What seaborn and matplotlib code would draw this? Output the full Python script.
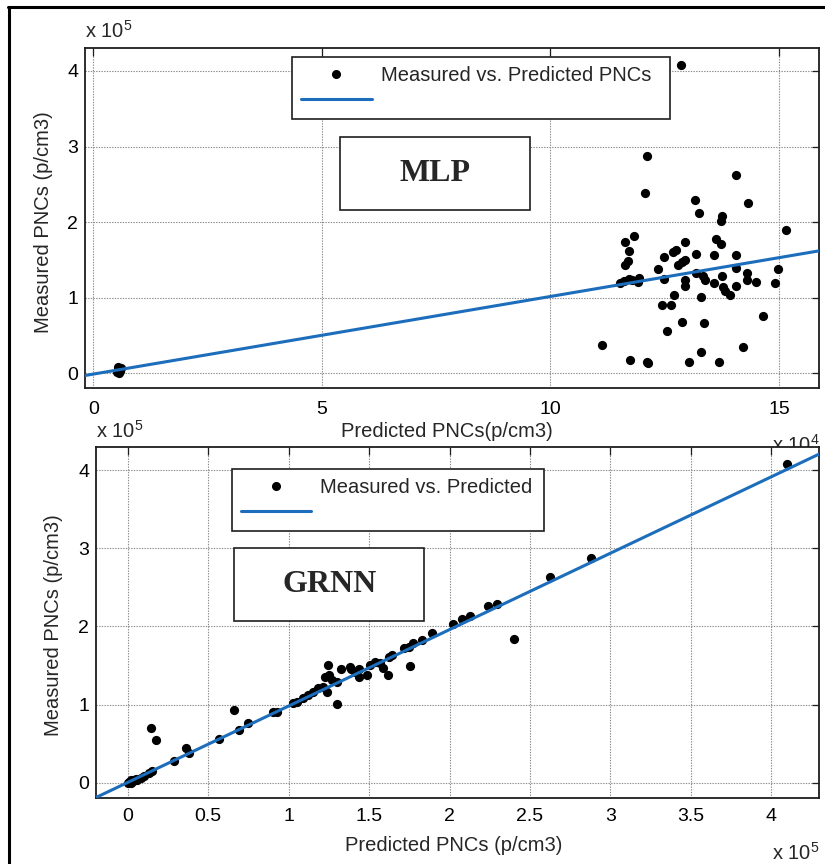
import matplotlib
matplotlib.use("Agg")
import matplotlib.pyplot as plt
from matplotlib.patches import Rectangle
from matplotlib.lines import Line2D
import seaborn as sns

# ---------------- data ----------------
# MLP: predicted PNCs in units of 1e4 p/cm3, measured PNCs in units of 1e5 p/cm3
mlp_pred = [0.52, 0.55, 0.58, 0.60, 0.56, 0.54,
            12.85, 12.11, 12.07, 14.06, 14.32, 13.17, 13.25, 13.75, 13.73, 15.16,
            11.82, 11.63, 12.95, 13.61, 13.73, 11.71, 12.75, 12.69, 13.18, 13.58,
            14.06, 12.48, 11.69, 11.63, 12.95, 12.87, 12.80, 12.36, 14.06, 14.97,
            14.29, 13.18, 13.33, 13.76, 11.71, 11.93, 12.48, 12.95, 13.39, 14.29,
            14.50, 11.53, 11.91, 13.58, 14.91, 12.95, 14.06, 13.78, 13.81, 12.70,
            13.29, 13.92, 12.44, 12.63, 14.65, 12.88, 13.36, 12.55, 11.12, 14.21,
            13.29, 11.74, 12.11, 12.13, 13.03, 13.69, 11.78, 11.60]
mlp_meas = [0.02, 0.05, 0.03, 0.07, 0.00, 0.08,
            4.08, 2.88, 2.39, 2.63, 2.25, 2.29, 2.12, 2.08, 2.02, 1.90,
            1.82, 1.74, 1.74, 1.78, 1.71, 1.62, 1.63, 1.61, 1.58, 1.56,
            1.57, 1.54, 1.48, 1.43, 1.50, 1.47, 1.43, 1.38, 1.40, 1.38,
            1.33, 1.33, 1.29, 1.29, 1.25, 1.26, 1.25, 1.23, 1.23, 1.23,
            1.21, 1.19, 1.21, 1.19, 1.19, 1.15, 1.15, 1.14, 1.09, 1.03,
            1.01, 1.03, 0.91, 0.91, 0.76, 0.68, 0.66, 0.56, 0.38, 0.35,
            0.28, 0.17, 0.15, 0.14, 0.15, 0.15, 1.24, 1.22]

# GRNN: predicted and measured PNCs, both in units of 1e5 p/cm3
grnn_pred = [0.00, 0.01, 0.02, 0.03, 0.04, 0.05, 0.06, 0.08, 0.10, 0.02,
             0.135, 0.153, 0.145, 0.176, 0.29, 0.36, 0.38, 0.567, 0.66, 0.69,
             0.75, 0.905, 0.925, 1.03, 1.05, 1.09, 1.12, 1.153, 1.185, 1.216,
             1.237, 1.247, 1.226, 1.253, 1.268, 1.30, 1.30, 1.326, 1.38, 1.39,
             1.41, 1.44, 1.44, 1.485, 1.506, 1.537, 1.57, 1.589, 1.62, 1.626,
             1.64, 1.72, 1.75, 1.753, 1.775, 1.83, 1.893, 2.024, 2.08, 2.127,
             2.24, 2.293, 2.40, 2.625, 2.88, 4.096]
grnn_meas = [0.00, 0.01, 0.00, 0.02, 0.03, 0.05, 0.04, 0.06, 0.08, 0.03,
             0.13, 0.15, 0.70, 0.546, 0.277, 0.44, 0.375, 0.563, 0.93, 0.68,
             0.77, 0.91, 0.91, 1.015, 1.03, 1.09, 1.12, 1.164, 1.207, 1.22,
             1.164, 1.505, 1.356, 1.377, 1.313, 1.006, 1.29, 1.454, 1.48, 1.45,
             1.42, 1.355, 1.46, 1.377, 1.505, 1.547, 1.53, 1.463, 1.377, 1.61,
             1.63, 1.72, 1.74, 1.49, 1.79, 1.825, 1.91, 2.03, 2.09, 2.13,
             2.26, 2.29, 1.84, 2.63, 2.88, 4.075]

# Least-squares fit lines (measured = slope * predicted + intercept, p/cm3)
mlp_fit = (1.027, -1000.0)
grnn_fit = (0.978, 300.0)

mlp_xticks = [0, 5, 10, 15]
mlp_yticks = [0, 1, 2, 3, 4]
grnn_xticks = [0, 0.5, 1, 1.5, 2, 2.5, 3, 3.5, 4]
grnn_xticklabels = ["0", "0.5", "1", "1.5", "2", "2.5", "3", "3.5", "4"]
grnn_yticks = [0, 1, 2, 3, 4]

# ---------------- style ----------------
sns.set_theme(style="white")
plt.rcParams["font.family"] = ["Liberation Sans", "DejaVu Sans"]
plt.rcParams["mathtext.default"] = "regular"

BLUE = "#1c6dbb"
DARK = "#1e1e1e"
TICK_FS = 14
LEG_FS = 14.5
LABEL_FS = 14.5

W, H = 825, 864
fig = plt.figure(figsize=(W / 100, H / 100), dpi=100, facecolor="white")


def frac_axes(left, top, right, bottom):
    return fig.add_axes([left / W, 1 - bottom / H, (right - left) / W, (bottom - top) / H])


def style_axes(ax):
    ax.set_facecolor("white")
    for sp in ax.spines.values():
        sp.set_visible(True)
        sp.set_color(DARK)
        sp.set_linewidth(1.3)
    ax.grid(True, color="#8a8a8a", linestyle=(0, (1.2, 1.2)), linewidth=0.8)
    ax.set_axisbelow(True)
    ax.tick_params(direction="in", top=True, right=True, length=5.4, width=0.9,
                   color=DARK, labelcolor="black", labelsize=TICK_FS)


def add_legend(ax, label, x0, y_top, width, handlelength):
    h_pts = Line2D([], [], marker="o", linestyle="", color="black", markersize=5.5)
    h_line = Line2D([], [], color=BLUE, linewidth=2.2)
    leg = ax.legend([h_pts, h_line], [label, ""], loc="upper left",
                    bbox_to_anchor=(x0, y_top - 0.2, width, 0.2), mode="expand",
                    borderaxespad=0, frameon=True, fancybox=False, framealpha=1,
                    edgecolor=DARK, facecolor="white", fontsize=LEG_FS,
                    handlelength=handlelength, handletextpad=0.45,
                    labelspacing=0.3, borderpad=0.45)
    leg.get_frame().set_linewidth(1.2)
    leg.set_zorder(5)


def add_name_box(ax, name, x0, y0, x1, y1):
    ax.add_patch(Rectangle((x0, y0), x1 - x0, y1 - y0, transform=ax.transAxes,
                           facecolor="white", edgecolor=DARK, linewidth=1.2, zorder=5))
    ax.text((x0 + x1) / 2, (y0 + y1) / 2, name, transform=ax.transAxes,
            ha="center", va="center", fontsize=23, fontweight="bold",
            family=["Liberation Serif", "DejaVu Serif"], zorder=6)


# ---------------- MLP panel ----------------
ax1 = frac_axes(85.3, 48.3, 819.3, 388.3)
style_axes(ax1)
x_lo, x_hi = -0.175, 15.88
ax1.set_xlim(x_lo, x_hi)
ax1.set_ylim(-0.198, 4.30)
sns.scatterplot(x=mlp_pred, y=mlp_meas, ax=ax1, color="black", s=44,
                linewidth=0, zorder=3, legend=False)
fx = [x_lo, x_hi]
fy = [(mlp_fit[0] * v * 1e4 + mlp_fit[1]) / 1e5 for v in fx]
sns.lineplot(x=fx, y=fy, ax=ax1, color=BLUE, linewidth=2.2, zorder=4, legend=False)
ax1.set_xticks(mlp_xticks)
ax1.set_xticklabels([str(t) for t in mlp_xticks])
ax1.set_yticks(mlp_yticks)
ax1.set_yticklabels([str(t) for t in mlp_yticks])
ax1.tick_params(axis="x", pad=9)
ax1.tick_params(axis="y", pad=5)
ax1.set_xlabel("Predicted PNCs(p/cm3)", fontsize=LABEL_FS)
ax1.xaxis.label.set_va("center")
ax1.xaxis.set_label_coords(0.493, -0.128)
ax1.set_ylabel("Measured PNCs (p/cm3)", fontsize=LABEL_FS)
ax1.yaxis.label.set_va("center")
ax1.yaxis.set_label_coords(-0.0576, 0.49)
ax1.text(0.0, 1.03, r"x 10$^{5}$", transform=ax1.transAxes, ha="left", va="baseline",
         fontsize=LEG_FS, clip_on=False)
ax1.text(1.0, -0.188, r"x 10$^{4}$", transform=ax1.transAxes, ha="right", va="baseline",
         fontsize=LEG_FS, clip_on=False)
add_legend(ax1, "Measured vs. Predicted PNCs", 0.2816, 0.9744, 0.515, 3.5)
add_name_box(ax1, "MLP", 0.347, 0.524, 0.606, 0.739)

# ---------------- GRNN panel ----------------
ax2 = frac_axes(96.0, 446.7, 819.3, 798.3)
style_axes(ax2)
g_lo, g_hi = -0.197, 4.298
ax2.set_xlim(g_lo, g_hi)
ax2.set_ylim(-0.2, 4.30)
sns.scatterplot(x=grnn_pred, y=grnn_meas, ax=ax2, color="black", s=44,
                linewidth=0, zorder=3, legend=False)
gx = [g_lo, g_hi]
gy = [(grnn_fit[0] * v * 1e5 + grnn_fit[1]) / 1e5 for v in gx]
sns.lineplot(x=gx, y=gy, ax=ax2, color=BLUE, linewidth=2.2, zorder=4, legend=False)
ax2.set_xticks(grnn_xticks)
ax2.set_xticklabels(grnn_xticklabels)
ax2.set_yticks(grnn_yticks)
ax2.set_yticklabels([str(t) for t in grnn_yticks])
ax2.tick_params(axis="x", pad=7)
ax2.tick_params(axis="y", pad=5)
ax2.set_xlabel("Predicted PNCs (p/cm3)", fontsize=LABEL_FS)
ax2.xaxis.label.set_va("center")
ax2.xaxis.set_label_coords(0.495, -0.133)
ax2.set_ylabel("Measured PNCs (p/cm3)", fontsize=LABEL_FS)
ax2.yaxis.label.set_va("center")
ax2.yaxis.set_label_coords(-0.0594, 0.493)
ax2.text(0.0, 1.025, r"x 10$^{5}$", transform=ax2.transAxes, ha="left", va="baseline",
         fontsize=LEG_FS, clip_on=False)
ax2.text(1.0, -0.175, r"x 10$^{5}$", transform=ax2.transAxes, ha="right", va="baseline",
         fontsize=LEG_FS, clip_on=False)
add_legend(ax2, "Measured vs. Predicted", 0.1876, 0.9366, 0.432, 3.5)
add_name_box(ax2, "GRNN", 0.191, 0.504, 0.454, 0.711)

# outer frame (top and left edges)
fig.add_artist(Line2D([8 / W, 1.0], [1 - 6.5 / H, 1 - 6.5 / H], transform=fig.transFigure,
                      color="black", linewidth=2.2))
fig.add_artist(Line2D([9 / W, 9 / W], [0.0, 1 - 6.5 / H], transform=fig.transFigure,
                      color="black", linewidth=2.2))

fig.savefig("out.png", dpi=100, facecolor="white")
